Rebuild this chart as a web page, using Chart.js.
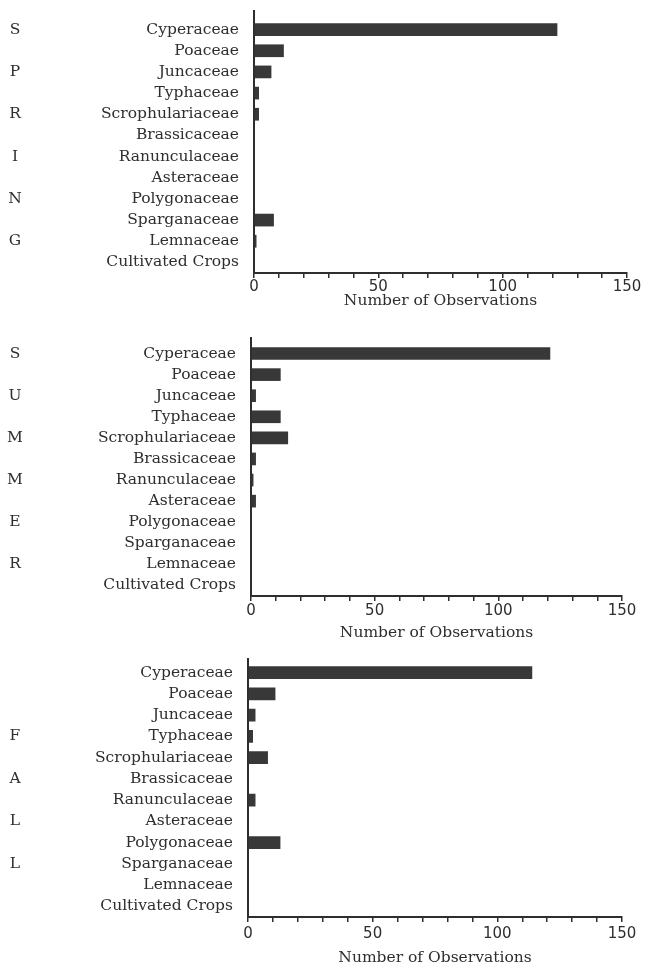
<!DOCTYPE html>
<html>
<head>
<meta charset="utf-8">
<script src="https://cdn.jsdelivr.net/npm/chart.js@4.4.0/dist/chart.umd.min.js"></script>
<style>
  html, body { margin: 0; padding: 0; background: #fff; }
  canvas { display: block; }
</style>
</head>
<body>
<canvas id="spring" width="647" height="318"></canvas>
<canvas id="summer" width="647" height="324"></canvas>
<canvas id="fall" width="647" height="332"></canvas>
<script>
// plant families, same order in all three seasons
const families = [
  'Cyperaceae', 'Poaceae', 'Juncaceae', 'Typhaceae', 'Scrophulariaceae',
  'Brassicaceae', 'Ranunculaceae', 'Asteraceae', 'Polygonaceae',
  'Sparganaceae', 'Lemnaceae', 'Cultivated Crops'
];

const springCounts = [122, 12, 7, 2, 2, 0, 0, 0, 0, 8, 1, 0];
const summerCounts = [121, 12, 2, 12, 15, 2, 1, 2, 0, 0, 0, 0];
const fallCounts   = [114, 11, 3, 2, 8, 0, 3, 0, 13, 0, 0, 0];

// season name written down the left side, one letter every other row
const springLetters = ['S', '', 'P', '', 'R', '', 'I', '', 'N', '', 'G', ''];
const summerLetters = ['S', '', 'U', '', 'M', '', 'M', '', 'E', '', 'R', ''];
const fallLetters   = ['', '', '', 'F', '', 'A', '', 'L', '', 'L', '', ''];

const xMin = 0;
const xMax = 150;
const xStep = 10;
const xLabelEvery = 50;
const xTitle = 'Number of Observations';

const serif = '"DejaVu Serif", "Liberation Serif", serif';
const ink = '#2e2e2e';

const sideLetters = {
  id: 'sideLetters',
  afterDraw(chart, args, opts) {
    const ctx = chart.ctx;
    const y = chart.scales.y;
    ctx.save();
    ctx.font = '15.5px ' + serif;
    ctx.fillStyle = ink;
    ctx.textAlign = 'center';
    ctx.textBaseline = 'middle';
    opts.letters.forEach((l, i) => {
      if (l) ctx.fillText(l, 15, y.getPixelForValue(i));
    });
    // the vertical axis runs a little past the top row
    const a = chart.chartArea;
    ctx.strokeStyle = ink;
    ctx.lineWidth = 2;
    ctx.beginPath();
    ctx.moveTo(a.left, a.top - opts.axisExtra);
    ctx.lineTo(a.left, a.top);
    ctx.stroke();
    ctx.restore();
  }
};

function makeChart(id, counts, letters, box) {
  return new Chart(document.getElementById(id), {
    type: 'bar',
    data: {
      labels: families,
      datasets: [{
        data: counts,
        backgroundColor: '#383838',
        barPercentage: 0.6,
        categoryPercentage: 1
      }]
    },
    options: {
      indexAxis: 'y',
      responsive: false,
      animation: false,
      layout: { padding: { top: box.top, right: box.right, left: 0, bottom: 0 } },
      plugins: {
        legend: { display: false },
        tooltip: { enabled: false },
        sideLetters: { letters: letters, axisExtra: box.axisExtra }
      },
      scales: {
        x: {
          min: xMin,
          max: xMax,
          grid: { drawOnChartArea: false, tickLength: 5, color: ink, lineWidth: 1.5 },
          border: { color: ink, width: 2 },
          ticks: {
            stepSize: xStep,
            autoSkip: false,
            maxRotation: 0,
            padding: box.tickPad,
            color: ink,
            font: { family: '"DejaVu Sans", sans-serif', size: 15 },
            callback: v => (v % xLabelEvery === 0 ? v : '')
          },
          title: {
            display: true,
            text: xTitle,
            color: ink,
            font: { family: serif, size: 15.5 },
            padding: { top: 0, bottom: box.titlePad }
          },
          afterFit: s => { s.height = box.xHeight; }
        },
        y: {
          grid: { display: false },
          border: { color: ink, width: 2 },
          ticks: {
            autoSkip: false,
            padding: 7,
            color: ink,
            font: { family: serif, size: 15.5 }
          },
          afterFit: s => { s.width = box.left; }
        }
      }
    },
    plugins: [sideLetters]
  });
}

makeChart('spring', springCounts, springLetters,
  { left: 254, right: 20, top: 19, xHeight: 45, tickPad: 0, titlePad: 8, axisExtra: 9 });
makeChart('summer', summerCounts, summerLetters,
  { left: 251, right: 25, top: 25, xHeight: 46, tickPad: 1, titlePad: 0, axisExtra: 6 });
makeChart('fall', fallCounts, fallLetters,
  { left: 248, right: 25, top: 20, xHeight: 57, tickPad: 3, titlePad: 7, axisExtra: 4 });
</script>
</body>
</html>
